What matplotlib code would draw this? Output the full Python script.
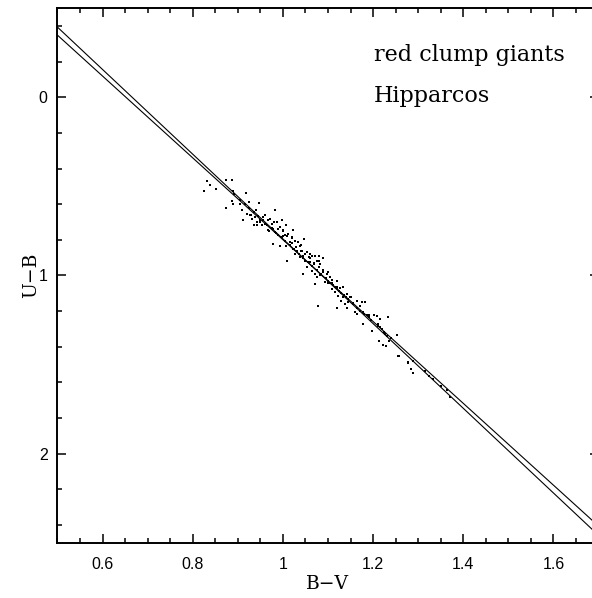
import numpy as np
import matplotlib
matplotlib.use('Agg')
import matplotlib.pyplot as plt
from matplotlib.ticker import MultipleLocator

# red clump giants (B-V, U-B)
bv = [0.831, 0.839, 0.824, 0.852, 0.873, 0.888, 0.890, 0.892, 0.887, 0.890,
      0.874, 0.918, 0.904, 0.909, 0.911, 0.924, 0.946, 0.920, 0.927, 0.935,
      0.931, 0.938, 0.942, 0.949, 0.935, 0.943, 0.953, 0.957, 0.960, 0.968,
      0.972, 0.975, 0.983, 0.977, 0.986, 0.994, 0.997, 1.001, 1.008, 0.966,
      0.983, 0.990, 0.997, 1.005, 1.012, 1.022, 1.020, 1.016, 1.027, 1.034,
      1.047, 1.038, 1.008, 0.994, 0.979, 1.023, 1.031, 1.042, 1.053, 1.045,
      1.057, 1.064, 1.071, 1.081, 1.090, 1.010, 1.027, 1.037, 1.049, 1.060,
      1.068, 1.075, 1.082, 1.053, 1.045, 1.064, 1.071, 1.076, 1.082, 1.090,
      1.097, 1.105, 1.108, 1.101, 1.071, 1.093, 1.112, 1.119, 1.127, 1.133,
      1.108, 1.116, 1.123, 1.134, 1.142, 1.149, 1.130, 1.138, 1.145, 1.156,
      1.164, 1.175, 1.182, 1.079, 1.119, 1.142, 1.160, 1.164, 1.171, 1.178,
      1.186, 1.192, 1.201, 1.208, 1.215, 1.234, 1.178, 1.197, 1.215, 1.219,
      1.226, 1.230, 1.252, 1.214, 1.223, 1.229, 1.236, 1.256, 1.278, 1.289,
      1.284, 1.289, 1.257, 1.277, 1.315, 1.325, 1.363, 1.370, 1.333, 1.351,
      0.905, 0.915, 0.925, 0.935, 0.945, 0.955, 0.965, 0.975, 0.985, 0.995,
      1.005, 1.015, 1.025, 1.035, 1.045, 1.055, 1.065, 1.075, 1.085, 1.095,
      1.105, 1.115, 1.125, 1.135, 1.145, 1.155, 1.165, 1.180, 1.195, 1.210,
      1.225, 1.240,
      0.93, 0.95, 0.96, 0.97, 0.99, 1.00, 1.01, 1.02, 1.03, 1.04,
      1.05, 1.06, 1.07, 1.08, 1.09, 1.10, 1.11, 1.12, 1.13, 1.14,
      0.94, 0.98, 1.00, 1.02, 1.04, 1.06, 1.08, 1.10, 1.12, 1.15,
      1.17, 1.19, 1.21]
ub = [0.470, 0.494, 0.526, 0.517, 0.466, 0.466, 0.526, 0.541, 0.583, 0.597,
      0.622, 0.536, 0.597, 0.635, 0.691, 0.588, 0.594, 0.654, 0.663, 0.644,
      0.682, 0.672, 0.700, 0.691, 0.719, 0.719, 0.719, 0.672, 0.710, 0.691,
      0.682, 0.714, 0.635, 0.738, 0.700, 0.729, 0.691, 0.747, 0.719, 0.747,
      0.757, 0.775, 0.785, 0.775, 0.766, 0.747, 0.785, 0.813, 0.804, 0.813,
      0.794, 0.832, 0.832, 0.832, 0.822, 0.850, 0.860, 0.860, 0.869, 0.888,
      0.897, 0.888, 0.888, 0.888, 0.903, 0.916, 0.878, 0.897, 0.916, 0.925,
      0.935, 0.916, 0.935, 0.953, 0.991, 0.972, 0.991, 1.006, 1.000, 0.981,
      0.991, 1.010, 1.028, 1.043, 1.047, 1.038, 1.056, 1.066, 1.070, 1.062,
      1.075, 1.094, 1.113, 1.122, 1.103, 1.122, 1.141, 1.159, 1.150, 1.159,
      1.141, 1.150, 1.150, 1.173, 1.184, 1.184, 1.206, 1.216, 1.197, 1.206,
      1.219, 1.234, 1.221, 1.225, 1.244, 1.234, 1.272, 1.313, 1.290, 1.300,
      1.328, 1.337, 1.334, 1.365, 1.390, 1.394, 1.365, 1.450, 1.487, 1.478,
      1.525, 1.547, 1.453, 1.493, 1.538, 1.564, 1.640, 1.680, 1.579, 1.618,
      0.575, 0.600, 0.620, 0.645, 0.668, 0.690, 0.715, 0.735, 0.760, 0.785,
      0.805, 0.830, 0.850, 0.878, 0.900, 0.922, 0.945, 0.970, 0.993, 1.015,
      1.040, 1.062, 1.085, 1.108, 1.132, 1.155, 1.180, 1.215, 1.250, 1.285,
      1.318, 1.352,
      0.66, 0.70, 0.66, 0.75, 0.74, 0.78, 0.78, 0.82, 0.84, 0.86,
      0.88, 0.90, 0.93, 0.95, 0.97, 1.03, 1.04, 1.07, 1.10, 1.12,
      0.63, 0.70, 0.75, 0.79, 0.83, 0.88, 0.92, 0.98, 1.03, 1.12,
      1.17, 1.22, 1.27]

# the two straight lines, given by their end points
line_bv = [0.5, 1.7]
line_a_ub = [-0.393, 2.457]
line_b_ub = [-0.348, 2.405]

fig = plt.figure(figsize=(5.92, 5.98), dpi=100)
ax = fig.add_axes([0.097, 0.092, 0.914, 0.8946])

ax.plot(line_bv, line_a_ub, color='black', linewidth=0.8)
ax.plot(line_bv, line_b_ub, color='black', linewidth=0.8)
ax.scatter(bv, ub, s=1.4, color='black', marker='s', linewidths=0)

ax.set_xlim(0.5, 1.7)
ax.set_ylim(2.5, -0.5)

ax.xaxis.set_major_locator(MultipleLocator(0.2))
ax.xaxis.set_minor_locator(MultipleLocator(0.05))
ax.yaxis.set_major_locator(MultipleLocator(1))
ax.yaxis.set_minor_locator(MultipleLocator(0.2))
ax.set_xticks([0.6, 0.8, 1.0, 1.2, 1.4, 1.6])
ax.set_xticklabels(['0.6', '0.8', '1', '1.2', '1.4', '1.6'])
ax.set_yticks([0, 1, 2])
ax.set_yticklabels(['0', '1', '2'])

ax.tick_params(which='both', direction='in', top=True, right=True, width=1.1)
ax.tick_params(which='major', length=6.5, labelsize=11.5)
ax.tick_params(axis='x', which='major', pad=10)
ax.tick_params(axis='y', which='major', pad=7)
ax.tick_params(which='minor', length=3.6)
for lab in ax.get_xticklabels() + ax.get_yticklabels():
    lab.set_family('Liberation Sans')
for sp in ax.spines.values():
    sp.set_linewidth(1.4)

ax.set_xlabel('B\u2212V', family='DejaVu Serif', fontsize=13.5, labelpad=2)
ax.set_ylabel('U\u2212B', family='DejaVu Serif', fontsize=13.5, labelpad=-1)

ax.text(0.585, 0.912, 'red clump giants', transform=ax.transAxes,
        family='DejaVu Serif', fontsize=16, va='center', ha='left')
ax.text(0.585, 0.8355, 'Hipparcos', transform=ax.transAxes,
        family='DejaVu Serif', fontsize=16, va='center', ha='left')

fig.savefig('out.png', dpi=100)
